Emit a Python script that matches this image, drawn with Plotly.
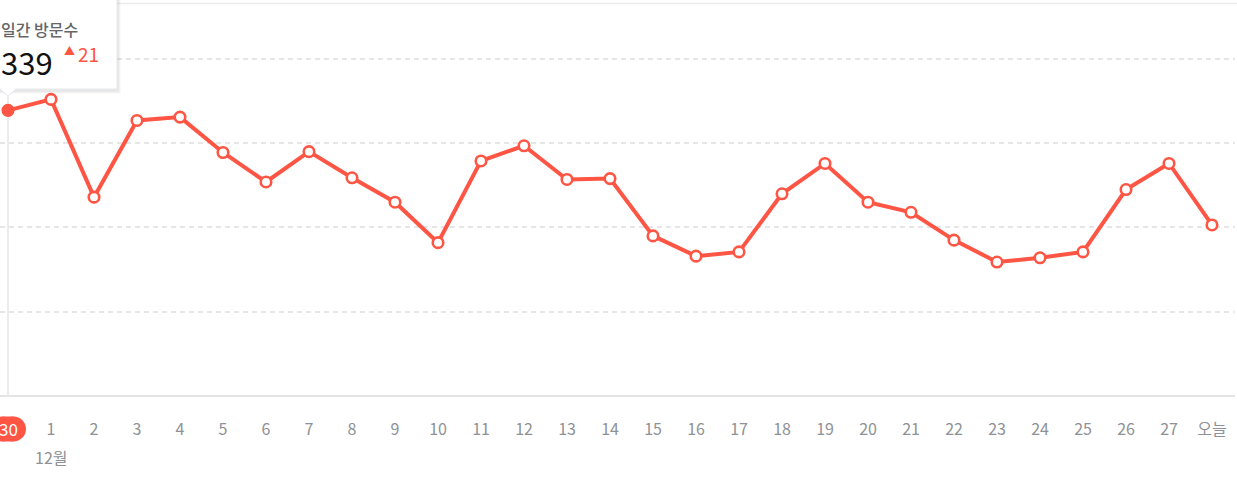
import plotly.graph_objects as go

# ---- data ----
day_labels = ["30", "1", "2", "3", "4", "5", "6", "7", "8", "9", "10", "11", "12", "13",
              "14", "15", "16", "17", "18", "19", "20", "21", "22", "23", "24", "25",
              "26", "27", "오늘"]
visits = [339, 352, 236, 327, 331, 289, 254, 290, 259, 230, 182, 279, 297, 257,
          258, 190, 166, 171, 240, 276, 230, 218, 185, 159, 164, 171, 245, 276, 203]
month_label = "12월"
tooltip_title = "일간 방문수"
tooltip_value = visits[0]
tooltip_delta = 21
y_grid = [100, 200, 300, 400]

W, H = 1237, 477
ML, MR, MT, MB = 0, 2, 0, 81
PW, PH = W - ML - MR, H - MT - MB
RED = "#ff5544"
GRAY_TXT = "#8e9196"
FONT = "Noto Sans CJK KR"

xs = list(range(len(visits)))
x_range = [-8 / 43, (PW - 8) / 43]
y_range = [0, 470]


def px(x):
    return x / PW


def py(y):
    return (PH - y) / PH


fig = go.Figure()
fig.add_trace(go.Scatter(
    x=xs, y=visits, mode="lines+markers",
    line=dict(color=RED, width=4),
    marker=dict(size=10.5, color="white", line=dict(color=RED, width=2.6)),
    hoverinfo="skip", cliponaxis=False,
))
# highlighted (hovered) first point
fig.add_trace(go.Scatter(
    x=xs[:1], y=visits[:1], mode="markers",
    marker=dict(size=12, color=RED, line=dict(color=RED, width=0)),
    hoverinfo="skip", cliponaxis=False,
))

shapes = []
# top border line
shapes.append(dict(type="line", xref="paper", yref="paper", x0=px(-5), x1=px(W + 5),
                   y0=py(3.5), y1=py(3.5), line=dict(color="#ececec", width=1.5), layer="above"))
# baseline
shapes.append(dict(type="line", xref="paper", yref="paper", x0=px(0), x1=px(PW),
                   y0=py(396), y1=py(396), line=dict(color="#e4e4e4", width=2), layer="below"))
# vertical hover line
shapes.append(dict(type="line", xref="x", yref="paper", x0=xs[0], x1=xs[0],
                   y0=py(396), y1=py(90), line=dict(color="#e6e6e6", width=1.5), layer="below"))
# tooltip shadow
for i, a in enumerate([0.02, 0.03, 0.04]):
    d = 4 - i
    shapes.append(dict(type="rect", xref="paper", yref="paper",
                       x0=px(-10), x1=px(117 + d), y0=py(-10), y1=py(89 + d + 1),
                       line=dict(width=0), fillcolor=f"rgba(0,0,0,{a})", layer="above"))
# tooltip box
shapes.append(dict(type="rect", xref="paper", yref="paper",
                   x0=px(-10), x1=px(117), y0=py(-10), y1=py(89),
                   line=dict(color="#e6e8ec", width=1), fillcolor="white", layer="above"))
# tooltip pointer
shapes.append(dict(type="path", xref="paper", yref="paper",
                   path=f"M {px(0)},{py(89)} L {px(8)},{py(96)} L {px(16)},{py(89)}",
                   line=dict(color="#e6e8ec", width=1), fillcolor="white", layer="above"))
shapes.append(dict(type="line", xref="paper", yref="paper", x0=px(0.8), x1=px(15.2),
                   y0=py(89), y1=py(89), line=dict(color="white", width=1.5), layer="above"))
# red pill behind the first tick label
r = 12.5
cx, cy = 8, 429
shapes.append(dict(type="circle", xref="paper", yref="paper",
                   x0=px(cx - 5.5 - r), x1=px(cx - 5.5 + r), y0=py(cy + r), y1=py(cy - r),
                   line=dict(width=0), fillcolor=RED))
shapes.append(dict(type="circle", xref="paper", yref="paper",
                   x0=px(cx + 5.5 - r), x1=px(cx + 5.5 + r), y0=py(cy + r), y1=py(cy - r),
                   line=dict(width=0), fillcolor=RED))
shapes.append(dict(type="rect", xref="paper", yref="paper",
                   x0=px(cx - 5.5), x1=px(cx + 5.5), y0=py(cy + r), y1=py(cy - r),
                   line=dict(width=0), fillcolor=RED))

annotations = [
    dict(text=day_labels[0], xref="x", yref="paper", x=xs[0], y=py(429),
         xanchor="center", yanchor="middle", showarrow=False,
         font=dict(family=FONT, size=17, color="white")),
    dict(text=month_label, xref="x", yref="paper", x=xs[1], y=py(457),
         xanchor="center", yanchor="middle", showarrow=False,
         font=dict(family=FONT, size=16, color=GRAY_TXT)),
    dict(text=tooltip_title, xref="paper", yref="paper", x=px(0), y=py(28.5),
         xanchor="left", yanchor="middle", showarrow=False, borderpad=0,
         font=dict(family=FONT, size=16, color="#666666", weight=500)),
    dict(text=str(tooltip_value), xref="paper", yref="paper", x=px(0), y=py(61),
         xanchor="left", yanchor="middle", showarrow=False, borderpad=0,
         font=dict(family=FONT, size=31, color="#111111")),
    dict(text="▲", xref="paper", yref="paper", x=px(63), y=py(50),
         xanchor="left", yanchor="middle", showarrow=False, borderpad=0,
         font=dict(family=FONT, size=11, color=RED)),
    dict(text=str(tooltip_delta), xref="paper", yref="paper", x=px(77), y=py(53),
         xanchor="left", yanchor="middle", showarrow=False, borderpad=0,
         font=dict(family=FONT, size=19, color=RED)),
]

fig.update_layout(
    width=W, height=H,
    margin=dict(l=ML, r=MR, t=MT, b=MB),
    paper_bgcolor="white", plot_bgcolor="white",
    showlegend=False, hovermode=False,
    shapes=shapes, annotations=annotations,
    font=dict(family=FONT),
    xaxis=dict(range=x_range, tickmode="array", tickvals=xs,
               ticktext=[""] + day_labels[1:], showgrid=False, zeroline=False,
               showline=False, ticks="", ticklabelstandoff=22,
               tickfont=dict(family=FONT, size=16, color=GRAY_TXT), fixedrange=True),
    yaxis=dict(range=y_range, tickmode="array", tickvals=y_grid, showticklabels=False,
               showgrid=True, gridcolor="#e6e6e6", gridwidth=1.5, griddash="5px,4px",
               zeroline=False, showline=False, ticks="", fixedrange=True),
)

fig.write_html("out.html", config={"displayModeBar": False},
               post_script="document.body.style.margin='0';document.body.style.overflow='hidden';")
